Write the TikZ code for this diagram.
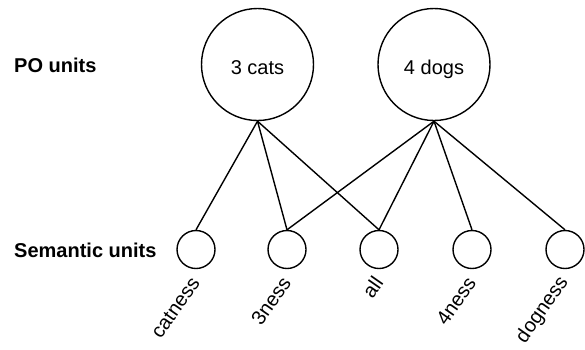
\documentclass[tikz,border=0pt]{standalone}
\usepackage{fontspec}
\setmainfont{Liberation Sans}
\begin{document}
\begin{tikzpicture}[x=1pt,y=-1pt,
  big/.style={draw,circle,line width=1.4pt,minimum size=112pt,inner sep=0pt,
    font=\fontsize{20}{24}\selectfont,text height=19pt,text depth=0pt},
  small/.style={draw,circle,line width=1.4pt,minimum size=38pt,inner sep=0pt},
  rowlabel/.style={anchor=base west,font=\fontsize{20}{24}\selectfont\bfseries,inner sep=0pt},
  semlabel/.style={anchor=east,rotate=55,font=\fontsize{20}{24}\selectfont,inner sep=1pt},
  link/.style={line width=1.4pt}]
\useasboundingbox (0,0) rectangle (585,349);
\node[rowlabel] (po) at (14,72.3) {PO units};
\node[rowlabel] (sem) at (14,257.3) {Semantic units};
\node[big] (cats) at (257.5,64.5) {3 cats};
\node[big] (dogs) at (434,64.5) {4 dogs};
\node[small] (catness) at (196,249.5) {};
\node[small] (3ness) at (287,249.5) {};
\node[small] (all) at (379,249.5) {};
\node[small] (4ness) at (472,249.5) {};
\node[small] (dogness) at (565,249.5) {};
\foreach \n in {catness,3ness,all,4ness,dogness}{
  \node[semlabel] (l\n) at ([yshift=-9pt]\n.south) {\n};
}
\draw[link] (cats.south) -- (catness.north);
\draw[link] (cats.south) -- (3ness.north);
\draw[link] (cats.south) -- (all.north);
\draw[link] (dogs.south) -- (3ness.north);
\draw[link] (dogs.south) -- (all.north);
\draw[link] (dogs.south) -- (4ness.north);
\draw[link] (dogs.south) -- (dogness.north);
\end{tikzpicture}
\end{document}
